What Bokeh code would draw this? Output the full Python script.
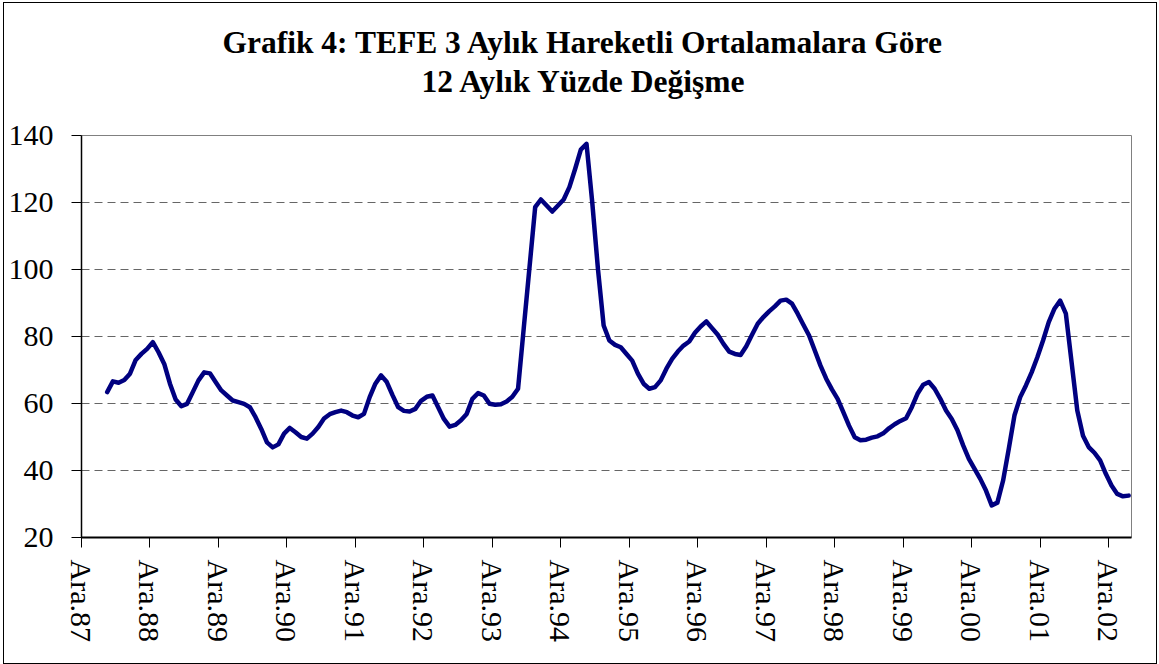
from bokeh.plotting import figure
from bokeh.models import Range1d, FixedTicker, Title, InlineStyleSheet
from bokeh.embed import file_html
from bokeh.resources import INLINE
import numpy as np

# Monthly categories: index 0 = Ara.87 (Dec 1987); tick labels every 12 months
tick_labels = ["Ara.87", "Ara.88", "Ara.89", "Ara.90", "Ara.91", "Ara.92", "Ara.93", "Ara.94",
               "Ara.95", "Ara.96", "Ara.97", "Ara.98", "Ara.99", "Ara.00", "Ara.01", "Ara.02"]
n_months = 184          # Ara.87 ... Mar.03
first_index = 4         # series starts in Nis.88

# TEFE, 3-month moving average, 12-month % change
values = [
    63.4, 66.6, 66.2, 67.0, 68.9, 73.0, 74.8, 76.3, 78.3, 75.3,          # 4-13
    71.8, 65.9, 61.2, 59.2, 59.9, 63.4, 66.9, 69.3, 69.0, 66.4,          # 14-23
    63.9, 62.4, 60.9, 60.4, 59.9, 58.9, 55.9, 52.4, 48.4, 46.9,          # 24-33
    47.8, 51.0, 52.7, 51.4, 50.0, 49.5, 51.0, 53.0, 55.5, 56.8,          # 34-43
    57.4, 57.9, 57.4, 56.4, 55.9, 56.9, 61.9, 65.9, 68.4, 66.4,          # 44-53
    62.5, 58.9, 57.8, 57.6, 58.4, 60.8, 62.0, 62.4, 58.9, 55.4,          # 54-63
    53.1, 53.6, 55.0, 56.9, 61.4, 63.1, 62.4, 59.9, 59.6, 59.8,          # 64-73
    60.6, 62.0, 64.4, 82.5, 100.5, 118.6, 120.9, 119.1, 117.3, 119.1,    # 74-83
    120.9, 124.6, 130.0, 135.8, 137.5, 120.1, 100.2, 83.3, 78.8, 77.5,   # 84-93
    76.8, 74.8, 72.8, 68.9, 65.9, 64.4, 64.9, 66.9, 70.4, 73.3,          # 94-103
    75.5, 77.3, 78.5, 81.1, 83.0, 84.5, 82.5, 80.5, 77.8, 75.5,          # 104-113
    74.8, 74.5, 77.1, 80.5, 83.8, 85.8, 87.5, 89.0, 90.7, 91.0,          # 114-123
    89.8, 86.8, 83.5, 80.3, 75.8, 71.3, 67.4, 64.2, 61.4, 57.4,          # 124-133
    53.4, 49.9, 49.0, 49.2, 49.8, 50.2, 51.1, 52.6, 53.8, 54.8,          # 134-143
    55.6, 58.9, 62.9, 65.6, 66.4, 64.4, 61.4, 57.9, 55.4, 52.0,          # 144-153
    47.5, 43.5, 40.5, 37.5, 34.0, 29.6, 30.4, 37.0, 46.5, 56.5,          # 154-163
    61.9, 65.4, 69.3, 73.8, 78.8, 84.3, 88.3, 90.7, 86.8, 72.3,          # 164-173
    57.9, 50.4, 47.0, 45.3, 43.0, 39.0, 35.5, 33.0, 32.3, 32.5,          # 174-183
]

y_ticks = [20, 40, 60, 80, 100, 120, 140]
title_lines = ["Grafik 4: TEFE 3 Aylık Hareketli Ortalamalara Göre", "12 Aylık Yüzde Değişme"]

x = np.arange(first_index, first_index + len(values)) + 0.5

FONT = "Liberation Serif"

p = figure(width=1159, height=664, output_backend="svg", toolbar_location=None,
           x_range=Range1d(0, n_months), y_range=Range1d(20, 140),
           min_border_left=81, min_border_right=28, min_border_top=135, min_border_bottom=127)

title_kw = dict(align="left", text_font=FONT, text_font_size="31.5px",
                text_font_style="bold", text_color="black")
try:
    t1 = Title(text=title_lines[0], offset=141, standoff=-71, **title_kw)
except Exception:
    t1 = Title(text=title_lines[0], offset=141, standoff=0, **title_kw)
p.title = t1
p.add_layout(Title(text=title_lines[1], offset=340, standoff=74, **title_kw), "above")

p.line(x, values, line_color="#000080", line_width=4.5, line_join="round", line_cap="round")

p.background_fill_color = "white"
p.border_fill_color = "white"
p.outline_line_color = "#808080"
p.outline_line_width = 1

p.xgrid.visible = False
p.ygrid.ticker = FixedTicker(ticks=y_ticks)
p.ygrid.grid_line_color = "#666666"
p.ygrid.grid_line_dash = "8 5"
p.ygrid.grid_line_width = 1

p.yaxis.ticker = FixedTicker(ticks=y_ticks)
p.yaxis.major_label_text_font = FONT
p.yaxis.major_label_text_font_size = "30px"
p.yaxis.major_label_text_color = "black"
p.yaxis.major_tick_out = 10
p.yaxis.major_tick_in = 0
p.yaxis.minor_tick_line_color = None
p.yaxis.major_label_standoff = 18
p.yaxis.axis_line_color = "black"
p.yaxis.axis_line_width = 1.5
p.yaxis.major_tick_line_color = "black"

xt = [i * 12 for i in range(len(tick_labels))]
p.xaxis.ticker = FixedTicker(ticks=xt)
p.xaxis.major_label_overrides = {t: lab for t, lab in zip(xt, tick_labels)}
p.xaxis.major_label_orientation = "vertical"
p.xaxis.major_label_text_font = FONT
p.xaxis.major_label_text_font_size = "30px"
p.xaxis.major_label_text_color = "black"
p.xaxis.major_tick_out = 10
p.xaxis.major_tick_in = 0
p.xaxis.minor_tick_line_color = None
p.xaxis.major_label_standoff = 12
p.xaxis.axis_line_color = "black"
p.xaxis.axis_line_width = 2
p.xaxis.major_tick_line_color = "black"

p.stylesheets = [InlineStyleSheet(css=(
    ":host { position: relative; }"
    ":host::after { content: ''; position: absolute; left: 3px; top: 2px; right: 2px; bottom: 0px;"
    " border: 1.5px solid black; pointer-events: none; box-sizing: border-box; }"))]

open("out.html", "w").write(file_html(p, INLINE))
